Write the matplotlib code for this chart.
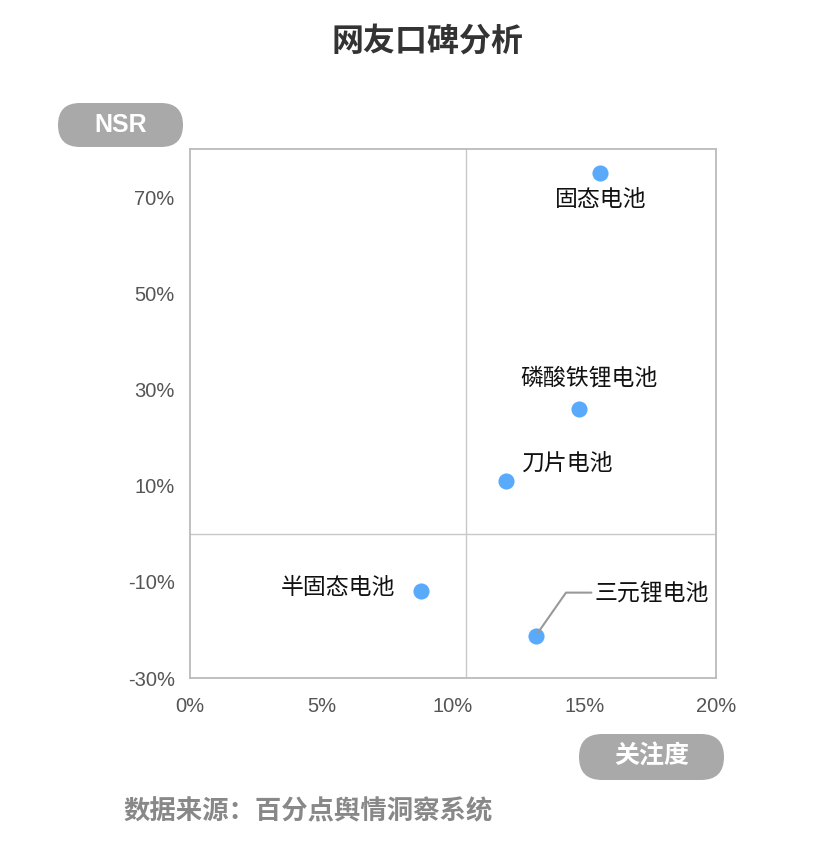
import matplotlib
matplotlib.use("Agg")
import matplotlib.pyplot as plt
from matplotlib.patches import FancyBboxPatch
from matplotlib.ticker import FuncFormatter

plt.rcParams['font.family'] = ['Noto Sans CJK SC', 'DejaVu Sans']

# 数据
names = ['固态电池', '磷酸铁锂电池', '刀片电池', '半固态电池', '三元锂电池']
attention = [15.6, 14.8, 12.0, 8.8, 13.15]   # 关注度 %
nsr = [75.0, 26.0, 11.0, -12.0, -21.2]       # NSR %
x_ticks = [0, 5, 10, 15, 20]
y_ticks = [-30, -10, 10, 30, 50, 70]
x_mid = 10.5
y_mid = 0

# 标签偏移 (points), 对齐方式
offsets = [(0, -19), (7, 22), (12, 13), (-19, 3), (42, 31)]
aligns = ['center', 'center', 'left', 'right', 'left']

fig = plt.figure(figsize=(8.24, 8.46), dpi=100)
ax = fig.add_axes([190 / 824, 1 - 678 / 846, 526 / 824, 529 / 846])

ax.scatter(attention, nsr, s=135, color='#5AAAFC', zorder=3, linewidths=0)

for i, name in enumerate(names):
    if name == '三元锂电池':
        ax.annotate(name, (attention[i], nsr[i]), xytext=offsets[i],
                    textcoords='offset points', ha=aligns[i], va='center',
                    fontsize=16.5, color='#111',
                    arrowprops=dict(arrowstyle='-', color='#999', lw=1.5,
                                    shrinkA=0, shrinkB=2,
                                    connectionstyle='angle,angleA=0,angleB=55'))
    else:
        ax.annotate(name, (attention[i], nsr[i]), xytext=offsets[i],
                    textcoords='offset points', ha=aligns[i], va='center',
                    fontsize=16.5, color='#111')

ax.axvline(x_mid, color='#c8c8c8', lw=1, zorder=1)
ax.axhline(y_mid, color='#c8c8c8', lw=1, zorder=1)

ax.set_xlim(0, 20)
ax.set_ylim(-30, 80)
ax.set_xticks(x_ticks)
ax.set_yticks(y_ticks)
ax.xaxis.set_major_formatter(FuncFormatter(lambda v, p: f'{v:.0f}%'))
ax.yaxis.set_major_formatter(FuncFormatter(lambda v, p: f'{v:.0f}%'))
ax.tick_params(length=0, labelsize=14.5, labelcolor='#555')
ax.tick_params(axis='x', pad=14)
ax.tick_params(axis='y', pad=11)
for lab in ax.get_xticklabels() + ax.get_yticklabels():
    lab.set_fontfamily(['Liberation Sans', 'DejaVu Sans'])
for sp in ax.spines.values():
    sp.set_color('#bbbbbb')
    sp.set_linewidth(1.3)

# 标题
fig.text(427 / 824, 1 - 42 / 846, '网友口碑分析', ha='center', va='center',
         fontsize=23, fontweight='bold', color='#333')

# 轴标签徽章
badge1 = FancyBboxPatch((0.58, 6.99), 1.25, 0.44,
                        boxstyle='round,pad=0,rounding_size=0.22',
                        transform=fig.dpi_scale_trans, facecolor='#a9a9a9',
                        edgecolor='none')
fig.patches.append(badge1)
fig.text(1.205, 7.21, 'NSR', transform=fig.dpi_scale_trans, ha='center',
         va='center', fontsize=18, fontweight='bold', color='white',
         family=['Liberation Sans', 'DejaVu Sans'])

badge2 = FancyBboxPatch((5.79, 0.66), 1.45, 0.46,
                        boxstyle='round,pad=0,rounding_size=0.23',
                        transform=fig.dpi_scale_trans, facecolor='#a9a9a9',
                        edgecolor='none')
fig.patches.append(badge2)
fig.text(6.515, 0.89, '关注度', transform=fig.dpi_scale_trans, ha='center',
         va='center', fontsize=18, fontweight='bold', color='white')

# 数据来源
fig.text(123 / 824, 1 - 812 / 846, '数据来源：百分点舆情洞察系统', ha='left',
         va='center', fontsize=19, fontweight='bold', color='#888')

fig.savefig('out.png', dpi=100)
